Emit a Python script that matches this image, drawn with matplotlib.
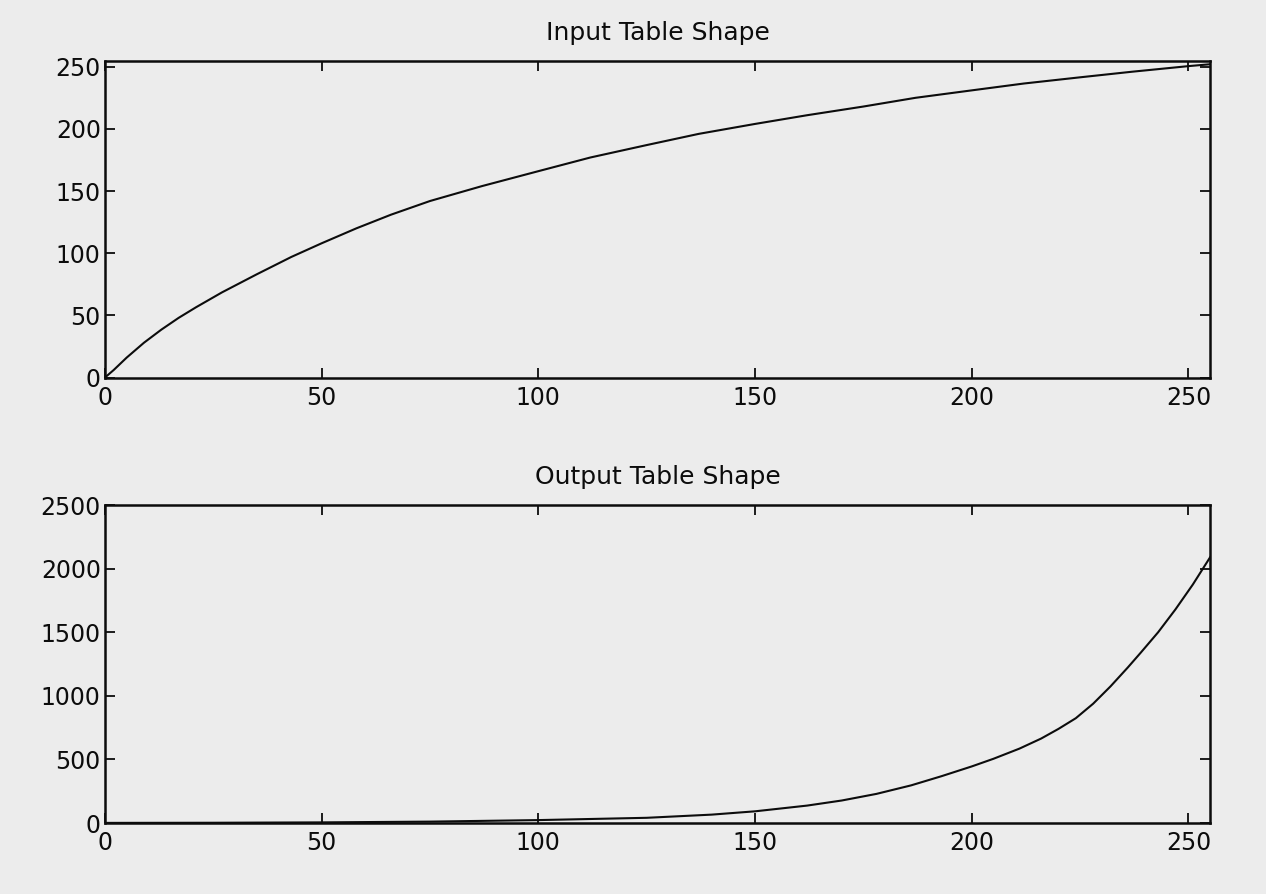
import matplotlib
matplotlib.use("Agg")
import matplotlib.pyplot as plt

# Input table shape
in_x = [0, 2, 5, 9, 13, 17, 21, 27, 35, 43, 50, 58, 66, 75, 87, 100, 112, 125,
        137, 150, 162, 175, 187, 200, 212, 225, 237, 250, 255]
in_y = [0, 6, 16, 28, 38.5, 48, 56.5, 68.5, 83, 97, 108, 120, 131, 142, 154, 166,
        177, 187, 196, 204, 211, 218, 225, 231, 236.5, 241.5, 246, 250.5, 252]

# Output table shape
out_x = [0, 25, 50, 75, 100, 125, 140, 150, 162, 170, 178, 186, 193, 200, 205,
         211, 216, 220, 224, 228, 232, 236, 239, 243, 247, 251, 255]
out_y = [1, 2, 5, 11, 23, 41, 66, 92, 137, 177, 229, 296, 368, 445, 505,
         585, 664, 740, 824, 938, 1074, 1223, 1340, 1500, 1680, 1875, 2090]

x_ticks = [0, 50, 100, 150, 200, 250]
top_y_ticks = [0, 50, 100, 150, 200, 250]
bot_y_ticks = [0, 500, 1000, 1500, 2000, 2500]

titles = ["Input Table Shape", "Output Table Shape"]

plt.rcParams['font.family'] = ['DejaVu Sans']
bg = '#ececec'
ink = '#0c0c0c'

fig = plt.figure(figsize=(12.66, 8.94), dpi=100, facecolor=bg)
ax1 = fig.add_axes([0.0829, 0.5777, 0.873, 0.3546])
ax2 = fig.add_axes([0.0829, 0.0794, 0.873, 0.3557])

for ax, xs, ys, yt, ylim, title in [
    (ax1, in_x, in_y, top_y_ticks, (0, 255), titles[0]),
    (ax2, out_x, out_y, bot_y_ticks, (0, 2500), titles[1]),
]:
    ax.set_facecolor(bg)
    ax.plot(xs, ys, color=ink, lw=1.5, solid_joinstyle='round')
    ax.set_xlim(0, 255)
    ax.set_ylim(*ylim)
    ax.set_xticks(x_ticks)
    ax.set_yticks(yt)
    ax.tick_params(direction='in', top=True, right=True, length=7, width=1.3,
                   labelsize=17, colors=ink)
    ax.tick_params(axis='x', pad=6)
    ax.tick_params(axis='y', pad=3)
    for s in ax.spines.values():
        s.set_linewidth(1.8)
        s.set_color(ink)
    ax.set_title(title, fontsize=18, color=ink, pad=15)

fig.savefig("out.png", dpi=100, facecolor=bg)
